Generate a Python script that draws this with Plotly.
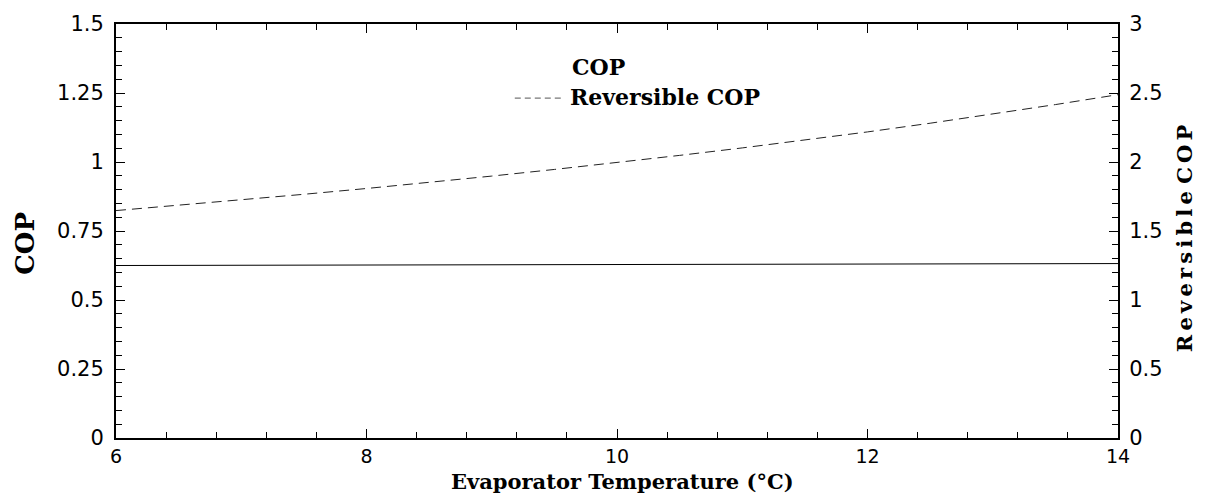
import plotly.graph_objects as go

# ---- data ----
evap_temp = [6, 6.5, 7, 7.5, 8, 8.5, 9, 9.5, 10, 10.5, 11, 11.5, 12, 12.5, 13, 13.5, 14]
cop = [0.625, 0.6255, 0.626, 0.6265, 0.627, 0.6275, 0.628, 0.6285, 0.629,
       0.6294, 0.6298, 0.6302, 0.6306, 0.631, 0.6314, 0.6318, 0.632]
rev_cop = [1.648, 1.686, 1.725, 1.766, 1.808, 1.852, 1.898, 1.946, 1.996,
           2.048, 2.102, 2.159, 2.218, 2.281, 2.347, 2.416, 2.488]

x_ticks = [6, 8, 10, 12, 14]
x_ticktext = ["6", "8", "10", "12", "14"]
y_ticks = [0, 0.25, 0.5, 0.75, 1, 1.25, 1.5]
y_ticktext = ["0", "0.25", "0.5", "0.75", "1", "1.25", "1.5"]
y2_ticks = [0, 0.5, 1, 1.5, 2, 2.5, 3]
y2_ticktext = ["0", "0.5", "1", "1.5", "2", "2.5", "3"]

tick_font = dict(family="DejaVu Sans", size=21, color="black")
xtick_font = dict(family="DejaVu Sans", size=19, color="black")
serif_bold = "DejaVu Serif"
ts = "\u2009"

fig = go.Figure()
fig.add_trace(go.Scatter(x=evap_temp, y=cop, mode="lines", name="COP",
                         line=dict(color="black", width=1), showlegend=False))
fig.add_trace(go.Scatter(x=evap_temp, y=rev_cop, mode="lines", name="Reversible COP",
                         yaxis="y2", line=dict(color="#222222", width=1, dash="10px,6px"),
                         showlegend=False))

fig.update_layout(
    width=1210, height=495,
    margin=dict(l=116, r=92, t=18, b=57),
    paper_bgcolor="white", plot_bgcolor="white",
    xaxis=dict(range=[6, 14], tickvals=x_ticks, ticktext=x_ticktext,
               showgrid=False, zeroline=False, showline=True, linecolor="black", linewidth=2,
               mirror="ticks", ticks="inside", ticklen=9, tickwidth=1, tickcolor="black",
               minor=dict(dtick=0.4, ticks="inside", ticklen=6, tickcolor="black", tickwidth=1),
               tickfont=xtick_font, ticklabelstandoff=0),
    yaxis=dict(range=[0, 1.5], tickvals=y_ticks, ticktext=y_ticktext,
               showgrid=False, zeroline=False, showline=True, linecolor="black", linewidth=2,
               ticks="inside", ticklen=9, tickwidth=1, tickcolor="black",
               minor=dict(dtick=0.05, ticks="inside", ticklen=6, tickcolor="black", tickwidth=1),
               tickfont=tick_font, ticklabelstandoff=6),
    yaxis2=dict(range=[0, 3], tickvals=y2_ticks, ticktext=y2_ticktext, overlaying="y", side="right",
                showgrid=False, zeroline=False, showline=True, linecolor="black", linewidth=2,
                ticks="inside", ticklen=9, tickwidth=1, tickcolor="black",
                minor=dict(dtick=0.1, ticks="inside", ticklen=6, tickcolor="black", tickwidth=1),
                tickfont=tick_font, ticklabelstandoff=5),
)

rev_title = ts.join("Reversible") + " " + ts.join("COP")

annos = [
    dict(text="<b>Evaporator Temperature (°C)</b>", x=0.505, y=-0.106, xref="paper", yref="paper",
         xanchor="center", yanchor="middle", showarrow=False,
         font=dict(family=serif_bold, size=21, color="black")),
    dict(text="<b>COP</b>", x=-0.091, y=0.471, xref="paper", yref="paper", textangle=-90,
         xanchor="center", yanchor="middle", showarrow=False,
         font=dict(family=serif_bold, size=26, color="black")),
    dict(text="<b>" + rev_title + "</b>", x=1.066, y=0.483, xref="paper", yref="paper",
         textangle=-90, xanchor="center", yanchor="middle", showarrow=False,
         font=dict(family=serif_bold, size=21, color="black")),
    dict(text="<b>COP</b>", x=0.453, y=0.895, xref="paper", yref="paper",
         xanchor="left", yanchor="middle", showarrow=False,
         font=dict(family=serif_bold, size=22, color="black")),
    dict(text="<b>Reversible COP</b>", x=0.451, y=0.824, xref="paper", yref="paper",
         xanchor="left", yanchor="middle", showarrow=False,
         font=dict(family=serif_bold, size=22, color="black")),
]
fig.update_layout(annotations=annos)
fig.add_shape(type="line", xref="paper", yref="paper", x0=0.398, x1=0.446, y0=0.821, y1=0.821,
              line=dict(color="#555555", width=1, dash="6px,4px"))

fig.write_html("out.html")
